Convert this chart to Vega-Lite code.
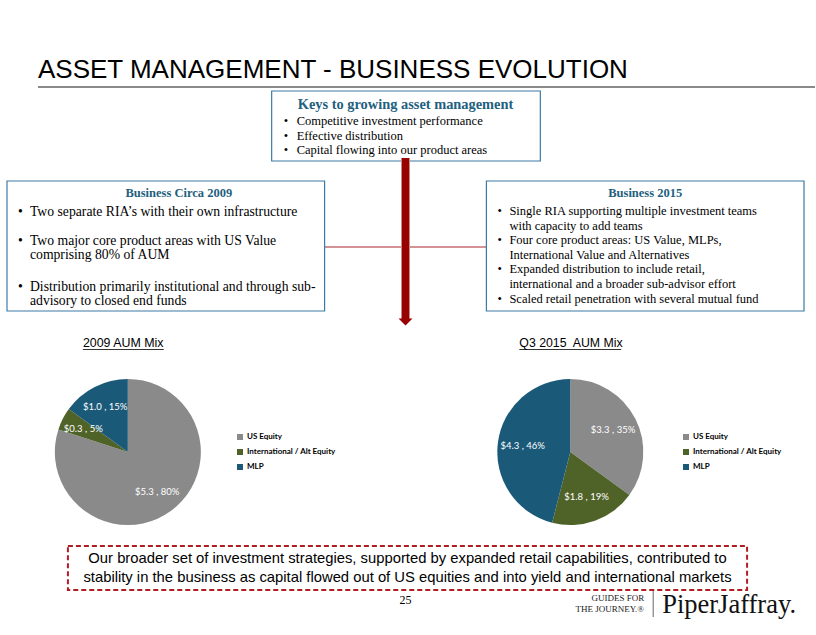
{
  "$schema": "https://vega.github.io/schema/vega-lite/v6.json",
  "width": 816,
  "height": 635,
  "padding": 0,
  "autosize": {"type": "fit", "contains": "padding"},
  "background": "white",
  "config": {"view": {"stroke": null}},
  "datasets": {
    "aum": [
      {"period": "2009", "category": "US Equity", "aum": 5.3, "pct": 80, "seq": 1},
      {"period": "2009", "category": "International / Alt Equity", "aum": 0.3, "pct": 5, "seq": 2},
      {"period": "2009", "category": "MLP", "aum": 1.0, "pct": 15, "seq": 3},
      {"period": "Q3 2015", "category": "US Equity", "aum": 3.3, "pct": 35, "seq": 1},
      {"period": "Q3 2015", "category": "International / Alt Equity", "aum": 1.8, "pct": 19, "seq": 2},
      {"period": "Q3 2015", "category": "MLP", "aum": 4.3, "pct": 46, "seq": 3}
    ]
  },
  "data": {"values": [{}]},
  "resolve": {"scale": {"color": "independent"}, "legend": {"color": "independent"}},
  "layer": [
    {
      "mark": {"type": "text", "text": "ASSET MANAGEMENT - BUSINESS EVOLUTION", "font": "Liberation Sans", "fontSize": 26, "align": "left", "baseline": "alphabetic", "color": "#000000"},
      "encoding": {
        "x": {"datum": 38, "type": "quantitative", "scale": {"domain": [0, 816], "nice": false, "zero": false}, "axis": null},
        "y": {"datum": 78, "type": "quantitative", "scale": {"domain": [0, 635], "nice": false, "zero": false, "reverse": true}, "axis": null}
      }
    },
    {
      "mark": {"type": "rule", "stroke": "#8a8a8a", "strokeWidth": 2},
      "encoding": {
        "x": {"datum": 38, "type": "quantitative", "scale": {"domain": [0, 816], "nice": false, "zero": false}, "axis": null},
        "x2": {"datum": 816},
        "y": {"datum": 87, "type": "quantitative", "scale": {"domain": [0, 635], "nice": false, "zero": false, "reverse": true}, "axis": null}
      }
    },
    {
      "mark": {"type": "rect", "fill": "white", "stroke": "#3d7ba5", "strokeWidth": 1.2},
      "encoding": {
        "x": {"datum": 272, "type": "quantitative", "scale": {"domain": [0, 816], "nice": false, "zero": false}, "axis": null},
        "x2": {"datum": 541},
        "y": {"datum": 91, "type": "quantitative", "scale": {"domain": [0, 635], "nice": false, "zero": false, "reverse": true}, "axis": null},
        "y2": {"datum": 161}
      }
    },
    {
      "mark": {"type": "text", "text": "Keys to growing asset management", "font": "Liberation Serif", "fontSize": 14.4, "fontWeight": "bold", "align": "center", "baseline": "alphabetic", "color": "#1f5f80"},
      "encoding": {
        "x": {"datum": 406, "type": "quantitative", "scale": {"domain": [0, 816], "nice": false, "zero": false}, "axis": null},
        "y": {"datum": 109, "type": "quantitative", "scale": {"domain": [0, 635], "nice": false, "zero": false, "reverse": true}, "axis": null}
      }
    },
    {
      "mark": {"type": "text", "text": ["•", "•", "•"], "font": "Liberation Serif", "fontSize": 12.5, "lineHeight": 14.5, "align": "left", "baseline": "alphabetic", "color": "#000000"},
      "encoding": {
        "x": {"datum": 284, "type": "quantitative", "scale": {"domain": [0, 816], "nice": false, "zero": false}, "axis": null},
        "y": {"datum": 125, "type": "quantitative", "scale": {"domain": [0, 635], "nice": false, "zero": false, "reverse": true}, "axis": null}
      }
    },
    {
      "mark": {"type": "text", "text": ["Competitive investment performance", "Effective distribution", "Capital flowing into our product areas"], "font": "Liberation Serif", "fontSize": 12.5, "lineHeight": 14.5, "align": "left", "baseline": "alphabetic", "color": "#000000"},
      "encoding": {
        "x": {"datum": 297, "type": "quantitative", "scale": {"domain": [0, 816], "nice": false, "zero": false}, "axis": null},
        "y": {"datum": 125, "type": "quantitative", "scale": {"domain": [0, 635], "nice": false, "zero": false, "reverse": true}, "axis": null}
      }
    },
    {
      "mark": {"type": "rule", "stroke": "#a8282c", "strokeWidth": 1},
      "encoding": {
        "x": {"datum": 325, "type": "quantitative", "scale": {"domain": [0, 816], "nice": false, "zero": false}, "axis": null},
        "x2": {"datum": 487},
        "y": {"datum": 247, "type": "quantitative", "scale": {"domain": [0, 635], "nice": false, "zero": false, "reverse": true}, "axis": null}
      }
    },
    {
      "mark": {"type": "rule", "stroke": "#c98a8a", "strokeWidth": 9},
      "encoding": {
        "x": {"datum": 406, "type": "quantitative", "scale": {"domain": [0, 816], "nice": false, "zero": false}, "axis": null},
        "y": {"datum": 158, "type": "quantitative", "scale": {"domain": [0, 635], "nice": false, "zero": false, "reverse": true}, "axis": null},
        "y2": {"datum": 319}
      }
    },
    {
      "mark": {"type": "rule", "stroke": "#990000", "strokeWidth": 7},
      "encoding": {
        "x": {"datum": 406, "type": "quantitative", "scale": {"domain": [0, 816], "nice": false, "zero": false}, "axis": null},
        "y": {"datum": 158, "type": "quantitative", "scale": {"domain": [0, 635], "nice": false, "zero": false, "reverse": true}, "axis": null},
        "y2": {"datum": 319}
      }
    },
    {
      "mark": {"type": "point", "shape": "M-1,-0.5L1,-0.5L0,0.5Z", "size": 196, "filled": true, "fill": "#990000", "opacity": 1, "strokeWidth": 0},
      "encoding": {
        "x": {"datum": 406, "type": "quantitative", "scale": {"domain": [0, 816], "nice": false, "zero": false}, "axis": null},
        "y": {"datum": 322, "type": "quantitative", "scale": {"domain": [0, 635], "nice": false, "zero": false, "reverse": true}, "axis": null}
      }
    },
    {
      "mark": {"type": "rect", "fill": "white", "stroke": "#3d7ba5", "strokeWidth": 1.2},
      "encoding": {
        "x": {"datum": 7, "type": "quantitative", "scale": {"domain": [0, 816], "nice": false, "zero": false}, "axis": null},
        "x2": {"datum": 325},
        "y": {"datum": 181, "type": "quantitative", "scale": {"domain": [0, 635], "nice": false, "zero": false, "reverse": true}, "axis": null},
        "y2": {"datum": 311}
      }
    },
    {
      "mark": {"type": "text", "text": "Business Circa 2009", "font": "Liberation Serif", "fontSize": 12.5, "fontWeight": "bold", "align": "center", "baseline": "alphabetic", "color": "#1f5f80"},
      "encoding": {
        "x": {"datum": 179, "type": "quantitative", "scale": {"domain": [0, 816], "nice": false, "zero": false}, "axis": null},
        "y": {"datum": 197, "type": "quantitative", "scale": {"domain": [0, 635], "nice": false, "zero": false, "reverse": true}, "axis": null}
      }
    },
    {
      "mark": {"type": "text", "text": "•", "font": "Liberation Serif", "fontSize": 13.7, "align": "left", "baseline": "alphabetic", "color": "#000000"},
      "encoding": {
        "x": {"datum": 18, "type": "quantitative", "scale": {"domain": [0, 816], "nice": false, "zero": false}, "axis": null},
        "y": {"datum": 215.5, "type": "quantitative", "scale": {"domain": [0, 635], "nice": false, "zero": false, "reverse": true}, "axis": null}
      }
    },
    {
      "mark": {"type": "text", "text": "Two separate RIA’s with their own infrastructure", "font": "Liberation Serif", "fontSize": 13.7, "align": "left", "baseline": "alphabetic", "color": "#000000"},
      "encoding": {
        "x": {"datum": 30, "type": "quantitative", "scale": {"domain": [0, 816], "nice": false, "zero": false}, "axis": null},
        "y": {"datum": 215.5, "type": "quantitative", "scale": {"domain": [0, 635], "nice": false, "zero": false, "reverse": true}, "axis": null}
      }
    },
    {
      "mark": {"type": "text", "text": "•", "font": "Liberation Serif", "fontSize": 13.7, "align": "left", "baseline": "alphabetic", "color": "#000000"},
      "encoding": {
        "x": {"datum": 18, "type": "quantitative", "scale": {"domain": [0, 816], "nice": false, "zero": false}, "axis": null},
        "y": {"datum": 244.5, "type": "quantitative", "scale": {"domain": [0, 635], "nice": false, "zero": false, "reverse": true}, "axis": null}
      }
    },
    {
      "mark": {"type": "text", "text": ["Two major core product areas with US Value", "comprising 80% of AUM"], "font": "Liberation Serif", "fontSize": 13.7, "lineHeight": 14.5, "align": "left", "baseline": "alphabetic", "color": "#000000"},
      "encoding": {
        "x": {"datum": 30, "type": "quantitative", "scale": {"domain": [0, 816], "nice": false, "zero": false}, "axis": null},
        "y": {"datum": 244.5, "type": "quantitative", "scale": {"domain": [0, 635], "nice": false, "zero": false, "reverse": true}, "axis": null}
      }
    },
    {
      "mark": {"type": "text", "text": "•", "font": "Liberation Serif", "fontSize": 13.7, "align": "left", "baseline": "alphabetic", "color": "#000000"},
      "encoding": {
        "x": {"datum": 18, "type": "quantitative", "scale": {"domain": [0, 816], "nice": false, "zero": false}, "axis": null},
        "y": {"datum": 290.5, "type": "quantitative", "scale": {"domain": [0, 635], "nice": false, "zero": false, "reverse": true}, "axis": null}
      }
    },
    {
      "mark": {"type": "text", "text": ["Distribution primarily institutional and through sub-", "advisory to closed end funds"], "font": "Liberation Serif", "fontSize": 13.7, "lineHeight": 14.5, "align": "left", "baseline": "alphabetic", "color": "#000000"},
      "encoding": {
        "x": {"datum": 30, "type": "quantitative", "scale": {"domain": [0, 816], "nice": false, "zero": false}, "axis": null},
        "y": {"datum": 290.5, "type": "quantitative", "scale": {"domain": [0, 635], "nice": false, "zero": false, "reverse": true}, "axis": null}
      }
    },
    {
      "mark": {"type": "rect", "fill": "white", "stroke": "#3d7ba5", "strokeWidth": 1.2},
      "encoding": {
        "x": {"datum": 487, "type": "quantitative", "scale": {"domain": [0, 816], "nice": false, "zero": false}, "axis": null},
        "x2": {"datum": 805},
        "y": {"datum": 181, "type": "quantitative", "scale": {"domain": [0, 635], "nice": false, "zero": false, "reverse": true}, "axis": null},
        "y2": {"datum": 311}
      }
    },
    {
      "mark": {"type": "text", "text": "Business 2015", "font": "Liberation Serif", "fontSize": 12.5, "fontWeight": "bold", "align": "center", "baseline": "alphabetic", "color": "#1f5f80"},
      "encoding": {
        "x": {"datum": 646, "type": "quantitative", "scale": {"domain": [0, 816], "nice": false, "zero": false}, "axis": null},
        "y": {"datum": 197, "type": "quantitative", "scale": {"domain": [0, 635], "nice": false, "zero": false, "reverse": true}, "axis": null}
      }
    },
    {
      "mark": {"type": "text", "text": ["•", "•", "•", "•"], "font": "Liberation Serif", "fontSize": 12.5, "lineHeight": 29.2, "align": "left", "baseline": "alphabetic", "color": "#000000"},
      "encoding": {
        "x": {"datum": 498, "type": "quantitative", "scale": {"domain": [0, 816], "nice": false, "zero": false}, "axis": null},
        "y": {"datum": 215, "type": "quantitative", "scale": {"domain": [0, 635], "nice": false, "zero": false, "reverse": true}, "axis": null}
      }
    },
    {
      "mark": {"type": "text", "text": ["Single RIA supporting multiple investment teams", "with capacity to add teams", "Four core product areas: US Value, MLPs,", "International Value and Alternatives", "Expanded distribution to include retail,", "international and a broader sub-advisor effort", "Scaled retail penetration with several mutual fund"], "font": "Liberation Serif", "fontSize": 12.5, "lineHeight": 14.6, "align": "left", "baseline": "alphabetic", "color": "#000000"},
      "encoding": {
        "x": {"datum": 510, "type": "quantitative", "scale": {"domain": [0, 816], "nice": false, "zero": false}, "axis": null},
        "y": {"datum": 215, "type": "quantitative", "scale": {"domain": [0, 635], "nice": false, "zero": false, "reverse": true}, "axis": null}
      }
    },
    {
      "mark": {"type": "text", "text": "2009 AUM Mix", "font": "Liberation Sans", "fontSize": 12.4, "align": "left", "baseline": "alphabetic", "color": "#000000"},
      "encoding": {
        "x": {"datum": 83, "type": "quantitative", "scale": {"domain": [0, 816], "nice": false, "zero": false}, "axis": null},
        "y": {"datum": 347, "type": "quantitative", "scale": {"domain": [0, 635], "nice": false, "zero": false, "reverse": true}, "axis": null}
      }
    },
    {
      "mark": {"type": "rule", "stroke": "#000000", "strokeWidth": 0.8},
      "encoding": {
        "x": {"datum": 83, "type": "quantitative", "scale": {"domain": [0, 816], "nice": false, "zero": false}, "axis": null},
        "x2": {"datum": 164},
        "y": {"datum": 349.5, "type": "quantitative", "scale": {"domain": [0, 635], "nice": false, "zero": false, "reverse": true}, "axis": null}
      }
    },
    {
      "mark": {"type": "text", "text": "Q3 2015\u00a0 AUM Mix", "font": "Liberation Sans", "fontSize": 12.3, "align": "left", "baseline": "alphabetic", "color": "#000000"},
      "encoding": {
        "x": {"datum": 520, "type": "quantitative", "scale": {"domain": [0, 816], "nice": false, "zero": false}, "axis": null},
        "y": {"datum": 347, "type": "quantitative", "scale": {"domain": [0, 635], "nice": false, "zero": false, "reverse": true}, "axis": null}
      }
    },
    {
      "mark": {"type": "rule", "stroke": "#000000", "strokeWidth": 0.8},
      "encoding": {
        "x": {"datum": 520, "type": "quantitative", "scale": {"domain": [0, 816], "nice": false, "zero": false}, "axis": null},
        "x2": {"datum": 622},
        "y": {"datum": 349.5, "type": "quantitative", "scale": {"domain": [0, 635], "nice": false, "zero": false, "reverse": true}, "axis": null}
      }
    },
    {
      "data": {"name": "aum"},
      "transform": [{"filter": "datum.period === '2009'"}],
      "mark": {"type": "arc", "radius": 73},
      "encoding": {
        "x": {"datum": 128, "type": "quantitative", "scale": {"domain": [0, 816], "nice": false, "zero": false}, "axis": null},
        "y": {"datum": 452, "type": "quantitative", "scale": {"domain": [0, 635], "nice": false, "zero": false, "reverse": true}, "axis": null},
        "theta": {"field": "pct", "type": "quantitative", "stack": true},
        "order": {"field": "seq", "type": "quantitative"},
        "color": {
          "field": "category", "type": "nominal",
          "scale": {"domain": ["US Equity", "International / Alt Equity", "MLP"], "range": ["#8a8a8a", "#4f6228", "#1a5a78"]},
          "legend": {"title": null, "orient": "none", "legendX": 236, "legendY": 433, "padding": 0, "symbolType": "square", "symbolSize": 36, "symbolStrokeWidth": 0, "labelFont": "Lato", "labelFontSize": 8, "labelFontWeight": "bold", "labelColor": "#000000", "labelOffset": 3, "rowPadding": 7}
        }
      }
    },
    {
      "data": {"name": "aum"},
      "transform": [{"filter": "datum.period === '2009'"}, {"calculate": "'$' + format(datum.aum, '.1f') + ' , ' + datum.pct + '%'", "as": "label"}],
      "mark": {"type": "text", "radius": 50, "font": "Lato", "fontSize": 9.5, "fill": "#ffffff", "align": "center", "baseline": "middle"},
      "encoding": {
        "x": {"datum": 128, "type": "quantitative", "scale": {"domain": [0, 816], "nice": false, "zero": false}, "axis": null},
        "y": {"datum": 452, "type": "quantitative", "scale": {"domain": [0, 635], "nice": false, "zero": false, "reverse": true}, "axis": null},
        "theta": {"field": "pct", "type": "quantitative", "stack": true},
        "order": {"field": "seq", "type": "quantitative"},
        "text": {"field": "label", "type": "nominal"}
      }
    },
    {
      "data": {"name": "aum"},
      "transform": [{"filter": "datum.period === 'Q3 2015'"}],
      "mark": {"type": "arc", "radius": 73},
      "encoding": {
        "x": {"datum": 571, "type": "quantitative", "scale": {"domain": [0, 816], "nice": false, "zero": false}, "axis": null},
        "y": {"datum": 452, "type": "quantitative", "scale": {"domain": [0, 635], "nice": false, "zero": false, "reverse": true}, "axis": null},
        "theta": {"field": "pct", "type": "quantitative", "stack": true},
        "order": {"field": "seq", "type": "quantitative"},
        "color": {
          "field": "category", "type": "nominal",
          "scale": {"domain": ["US Equity", "International / Alt Equity", "MLP"], "range": ["#8a8a8a", "#4f6228", "#1a5a78"]},
          "legend": {"title": null, "orient": "none", "legendX": 682, "legendY": 433, "padding": 0, "symbolType": "square", "symbolSize": 36, "symbolStrokeWidth": 0, "labelFont": "Lato", "labelFontSize": 8, "labelFontWeight": "bold", "labelColor": "#000000", "labelOffset": 3, "rowPadding": 7}
        }
      }
    },
    {
      "data": {"name": "aum"},
      "transform": [{"filter": "datum.period === 'Q3 2015'"}, {"calculate": "'$' + format(datum.aum, '.1f') + ' , ' + datum.pct + '%'", "as": "label"}],
      "mark": {"type": "text", "radius": 48, "font": "Lato", "fontSize": 9.5, "fill": "#ffffff", "align": "center", "baseline": "middle"},
      "encoding": {
        "x": {"datum": 571, "type": "quantitative", "scale": {"domain": [0, 816], "nice": false, "zero": false}, "axis": null},
        "y": {"datum": 452, "type": "quantitative", "scale": {"domain": [0, 635], "nice": false, "zero": false, "reverse": true}, "axis": null},
        "theta": {"field": "pct", "type": "quantitative", "stack": true},
        "order": {"field": "seq", "type": "quantitative"},
        "text": {"field": "label", "type": "nominal"}
      }
    },
    {
      "mark": {"type": "rect", "fill": null, "fillOpacity": 0, "stroke": "#b01e23", "strokeWidth": 2, "strokeDash": [5, 3]},
      "encoding": {
        "x": {"datum": 68, "type": "quantitative", "scale": {"domain": [0, 816], "nice": false, "zero": false}, "axis": null},
        "x2": {"datum": 748},
        "y": {"datum": 546, "type": "quantitative", "scale": {"domain": [0, 635], "nice": false, "zero": false, "reverse": true}, "axis": null},
        "y2": {"datum": 590}
      }
    },
    {
      "mark": {"type": "text", "text": ["Our broader set of investment strategies, supported by expanded retail capabilities, contributed to", "stability in the business as capital flowed out of US equities and into yield and international markets"], "font": "Liberation Sans", "fontSize": 14.8, "lineHeight": 19, "align": "center", "baseline": "alphabetic", "color": "#000000"},
      "encoding": {
        "x": {"datum": 408, "type": "quantitative", "scale": {"domain": [0, 816], "nice": false, "zero": false}, "axis": null},
        "y": {"datum": 563, "type": "quantitative", "scale": {"domain": [0, 635], "nice": false, "zero": false, "reverse": true}, "axis": null}
      }
    },
    {
      "mark": {"type": "text", "text": "25", "font": "Liberation Serif", "fontSize": 12, "align": "center", "baseline": "alphabetic", "color": "#000000"},
      "encoding": {
        "x": {"datum": 406, "type": "quantitative", "scale": {"domain": [0, 816], "nice": false, "zero": false}, "axis": null},
        "y": {"datum": 604, "type": "quantitative", "scale": {"domain": [0, 635], "nice": false, "zero": false, "reverse": true}, "axis": null}
      }
    },
    {
      "mark": {"type": "text", "text": ["GUIDES FOR", "THE JOURNEY.®"], "font": "Liberation Serif", "fontSize": 9, "letterSpacing": 1, "lineHeight": 10.5, "align": "right", "baseline": "alphabetic", "color": "#222222"},
      "encoding": {
        "x": {"datum": 645, "type": "quantitative", "scale": {"domain": [0, 816], "nice": false, "zero": false}, "axis": null},
        "y": {"datum": 601, "type": "quantitative", "scale": {"domain": [0, 635], "nice": false, "zero": false, "reverse": true}, "axis": null}
      }
    },
    {
      "mark": {"type": "rule", "stroke": "#666666", "strokeWidth": 1},
      "encoding": {
        "x": {"datum": 654, "type": "quantitative", "scale": {"domain": [0, 816], "nice": false, "zero": false}, "axis": null},
        "y": {"datum": 591, "type": "quantitative", "scale": {"domain": [0, 635], "nice": false, "zero": false, "reverse": true}, "axis": null},
        "y2": {"datum": 617}
      }
    },
    {
      "mark": {"type": "text", "text": "PiperJaffray.", "font": "Liberation Serif", "fontSize": 26.5, "letterSpacing": 0.6, "align": "left", "baseline": "alphabetic", "color": "#111111"},
      "encoding": {
        "x": {"datum": 663, "type": "quantitative", "scale": {"domain": [0, 816], "nice": false, "zero": false}, "axis": null},
        "y": {"datum": 613, "type": "quantitative", "scale": {"domain": [0, 635], "nice": false, "zero": false, "reverse": true}, "axis": null}
      }
    }
  ]
}
